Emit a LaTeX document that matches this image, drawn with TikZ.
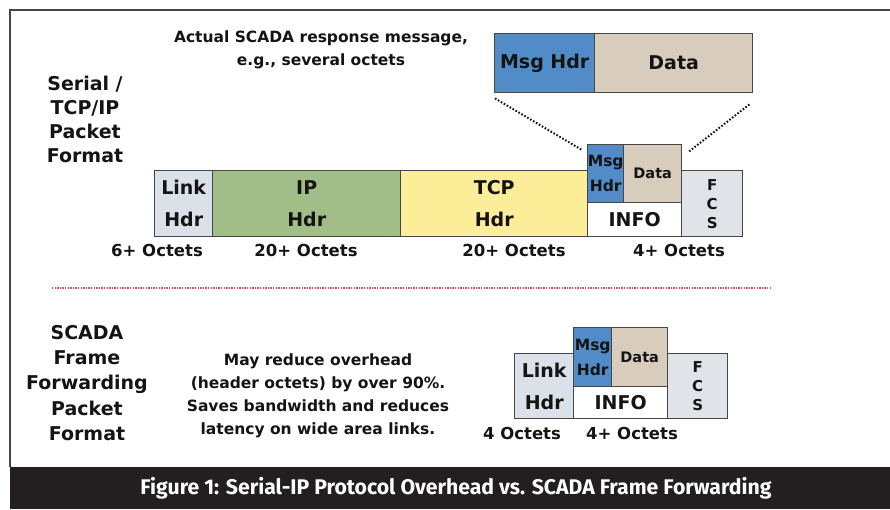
\documentclass[tikz,border=0pt]{standalone}
\usepackage{fontspec}
\setmainfont{DejaVu Sans}
\newfontfamily\capfont{Fira Sans}
\usetikzlibrary{calc}
\definecolor{linkgray}{RGB}{218,225,232}
\definecolor{fcsgray}{RGB}{224,228,232}
\definecolor{ipgreen}{RGB}{162,190,136}
\definecolor{tcpyellow}{RGB}{252,238,152}
\definecolor{msgblue}{RGB}{82,140,200}
\definecolor{databeige}{RGB}{216,204,188}
\definecolor{boxline}{RGB}{70,70,70}
\definecolor{redline}{RGB}{226,72,104}
\definecolor{capbg}{RGB}{35,31,32}
\definecolor{txt}{RGB}{20,20,20}
\newcommand\hdrfont{\bfseries\fontsize{19}{32}\selectfont}
\newcommand\lblfont{\bfseries\fontsize{19}{24}\selectfont}
\newcommand\lowlblfont{\bfseries\fontsize{19}{25.2}\selectfont}
\newcommand\notefont{\bfseries\fontsize{15.5}{23}\selectfont}
\newcommand\octfont{\bfseries\fontsize{16.5}{20}\selectfont}
\newcommand\smallmsgfont{\bfseries\fontsize{15.5}{25}\selectfont}
\newcommand\smalldatafont{\bfseries\fontsize{14.5}{18}\selectfont}
\newcommand\fcsfont{\bfseries\fontsize{15}{19}\selectfont}
\begin{document}
\begin{tikzpicture}[x=1pt,y=-1pt,
  box/.style={draw=boxline, line width=1.4pt, inner sep=0pt, anchor=north west, align=center, text=txt},
  lbl/.style={align=center, text=txt, inner sep=0pt},
  dotline/.style={draw=txt, line width=2pt, dash pattern=on 1.6pt off 1.8pt},
  reddot/.style={draw=redline, line width=1.6pt, dash pattern=on 1.3pt off 1.3pt},
  frameline/.style={draw=boxline, line width=1.5pt}]
\useasboundingbox (0,0) rectangle (890,509);

% frame
\draw[frameline] (10,467) -- (10,10) -- (890,10);

% top section labels
\node[lbl, font=\lblfont] (toplbl) at (85,119) {Serial /\\TCP/IP\\Packet\\Format};
\node[lbl, font=\notefont] (title) at (321,50) {Actual SCADA response message,\\e.g., several octets};

% enlarged message
\node[box, fill=msgblue, minimum width=100pt, minimum height=59pt, font=\hdrfont] (bigmsg) at (494,33) {Msg Hdr};
\node[box, fill=databeige, minimum width=158pt, minimum height=59pt, font=\hdrfont] (bigdata) at (594,33) {Data};

% top packet
\node[box, fill=linkgray, minimum width=58pt, minimum height=66pt, font=\hdrfont] (link1) at (154,170) {Link\\Hdr};
\node[box, fill=ipgreen, minimum width=188pt, minimum height=66pt, font=\hdrfont] (ip1) at (212,170) {IP\\Hdr};
\node[box, fill=tcpyellow, minimum width=187pt, minimum height=66pt, font=\hdrfont] (tcp1) at (400,170) {TCP\\Hdr};
\node[box, fill=white, minimum width=94pt, minimum height=34pt, font=\hdrfont] (info1) at (587,202) {INFO};
\node[box, fill=msgblue, minimum width=36pt, minimum height=58pt, font=\smallmsgfont] (msg1) at (587,144) {Msg\\Hdr};
\node[box, fill=databeige, minimum width=58pt, minimum height=58pt, font=\smalldatafont] (data1) at (623,144) {Data};
\node[box, fill=fcsgray, minimum width=61pt, minimum height=66pt, font=\fcsfont] (fcs1) at (681,170) {F\\C\\S};

% octet labels top
\node[lbl, font=\octfont] (o1) at (157,250) {6+ Octets};
\node[lbl, font=\octfont] (o2) at (306,250) {20+ Octets};
\node[lbl, font=\octfont] (o3) at (514,250) {20+ Octets};
\node[lbl, font=\octfont] (o4) at (679,250) {4+ Octets};

% dotted connectors
\draw[dotline] ($(bigmsg.south west)+(1,5)$) -- ($(msg1.north west)+(-5,6)$);
\draw[dotline] ($(bigdata.south east)+(-4,11)$) -- ($(data1.north east)+(6,8)$);

% separator
\coordinate (r1) at (52,288);
\coordinate (r2) at (772,288);
\draw[reddot] (r1) -- (r2);

% lower section labels
\node[lbl, font=\lowlblfont] (lowlbl) at (87,383) {SCADA\\Frame\\Forwarding\\Packet\\Format};
\node[lbl, font=\notefont] (note) at (318,396) {May reduce overhead\\(header octets) by over 90\%.\\Saves bandwidth and reduces\\latency on wide area links.};

% lower packet
\node[box, fill=linkgray, minimum width=59pt, minimum height=65pt, font=\hdrfont] (link2) at (514,353) {Link\\Hdr};
\node[box, fill=white, minimum width=94pt, minimum height=32pt, font=\hdrfont] (info2) at (573,386) {INFO};
\node[box, fill=msgblue, minimum width=38pt, minimum height=59pt, font=\smallmsgfont] (msg2) at (573,327) {Msg\\Hdr};
\node[box, fill=databeige, minimum width=56pt, minimum height=59pt, font=\smalldatafont] (data2) at (611,327) {Data};
\node[box, fill=fcsgray, minimum width=60pt, minimum height=65pt, font=\fcsfont] (fcs2) at (667,353) {F\\C\\S};

\node[lbl, font=\octfont] (o5) at (522,433) {4 Octets};
\node[lbl, font=\octfont] (o6) at (632,433) {4+ Octets};

% caption bar
\fill[capbg] (10,467) rectangle (890,509);
\node[lbl, text=white, font=\capfont\bfseries\fontsize{21.2}{23}\selectfont] (cap) at (456,488) {Figure 1: Serial-IP Protocol Overhead vs. SCADA Frame Forwarding};
\end{tikzpicture}
\end{document}
